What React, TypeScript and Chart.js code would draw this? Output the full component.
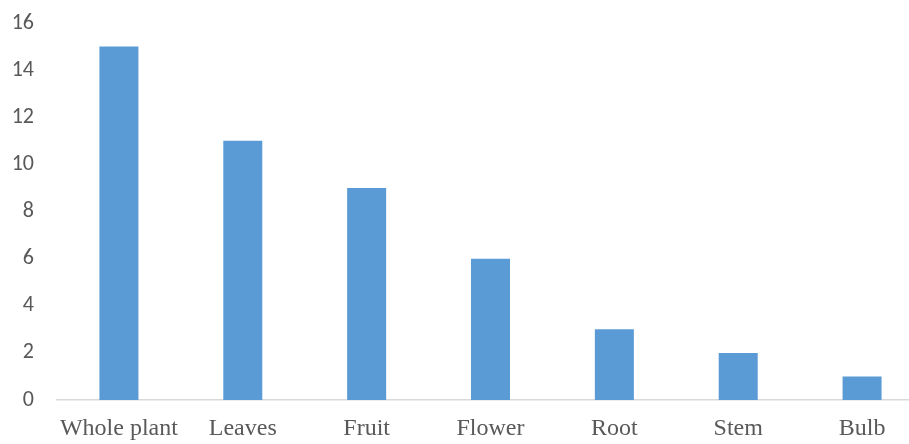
import React, { useEffect, useRef } from "react";
import { Chart, registerables } from "chart.js";

Chart.register(...registerables);

const categories = ["Whole plant", "Leaves", "Fruit", "Flower", "Root", "Stem", "Bulb"];
const counts = [15, 11, 9, 6, 3, 2, 1];
const yMin = 0;
const yMax = 16;
const yStep = 2;

export default function App() {
  const ref = useRef<HTMLCanvasElement | null>(null);

  useEffect(() => {
    document.documentElement.style.overflow = "hidden";
    document.body.style.overflow = "hidden";
    const ctx = ref.current;
    if (!ctx) return;
    const chart = new Chart(ctx, {
      type: "bar",
      data: {
        labels: categories,
        datasets: [
          {
            data: counts,
            backgroundColor: "#5B9BD5",
            borderWidth: 0,
            barPercentage: 1,
            categoryPercentage: 0.315,
          },
        ],
      },
      options: {
        animation: false,
        responsive: false,
        maintainAspectRatio: false,
        layout: { padding: { top: 23, left: 0, right: 0, bottom: 0 } },
        plugins: { legend: { display: false }, tooltip: { enabled: false } },
        scales: {
          x: {
            grid: { display: false, drawTicks: false },
            border: { display: true, color: "#D9D9D9", width: 1.5 },
            ticks: {
              color: "#595959",
              font: { family: "'Liberation Serif', 'Times New Roman', serif", size: 24 },
              padding: 14,
              maxRotation: 0,
              autoSkip: false,
            },
            afterFit: (s: any) => {
              s.height = 44;
            },
          },
          y: {
            min: yMin,
            max: yMax,
            grid: { display: false, drawTicks: false },
            border: { display: false },
            ticks: {
              stepSize: yStep,
              color: "#595959",
              font: { family: "Carlito, Calibri, 'Liberation Sans', sans-serif", size: 22 },
              padding: 23,
            },
            afterFit: (s: any) => {
              s.width = 57;
              s.paddingTop = 0;
              s.paddingBottom = 0;
            },
          },
        },
      },
    });
    return () => chart.destroy();
  }, []);

  return (
    <div style={{ position: "fixed", left: 0, top: 0, width: 924, height: 444, background: "#fff" }}>
      <canvas ref={ref} width={924} height={444} style={{ width: 924, height: 444 }} />
    </div>
  );
}
